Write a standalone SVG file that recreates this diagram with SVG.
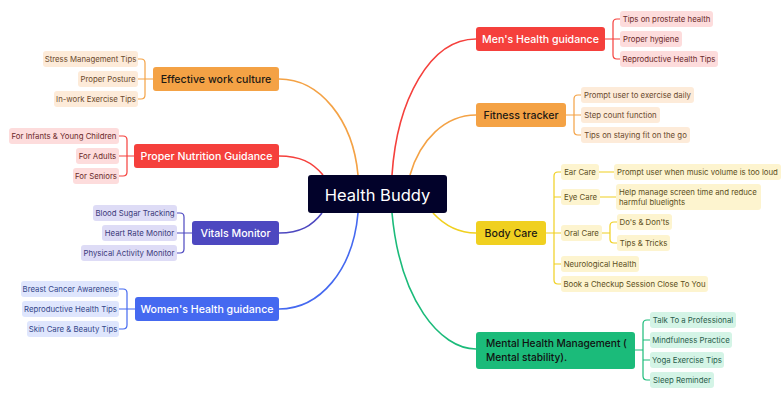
<svg xmlns="http://www.w3.org/2000/svg" width="784" height="403" viewBox="0 0 784 403">
<style>
text{font-family:Inter,"Noto Sans","Liberation Sans",sans-serif}
.c{font-size:7.8px;text-anchor:middle;dominant-baseline:central}
.b{font-size:10.6px;font-weight:500;text-anchor:middle;dominant-baseline:central}
.ln{fill:none;stroke-width:1.6}
.s{fill:none;stroke-width:1.2}
.o{stroke:#f4a245}.r{stroke:#f5403c}.i{stroke:#4d48c0}.bl{stroke:#4569f0}.y{stroke:#f0d020}.g{stroke:#1bbb7a}
.co rect{fill:#fdebd9}.co text{fill:#6b4a2e}
.cr rect{fill:#fddcdc}.cr text{fill:#6b2a2a}
.ci rect{fill:#dedcf6}.ci text{fill:#3b3a7a}
.cb rect{fill:#dfe6fd}.cb text{fill:#34468a}
.cy rect{fill:#fdf4cf}.cy text{fill:#5c4f1c}
.cg rect{fill:#d4f4e6}.cg text{fill:#2b5e4c}
</style>
<rect width="784" height="403" fill="#fff"/>
<g id="connectors">
<path class="ln o" d="M358,175 C353,120 320,79 279,79"/>
<path class="ln r" d="M323,175 C312,162 300,156 279,156"/>
<path class="ln i" d="M322,213 C312,226 300,233 279,233"/>
<path class="ln bl" d="M358,213 C353,270 320,309 279,309"/>
<path class="ln r" d="M392,175 C397,100 430,39 476,39"/>
<path class="ln o" d="M410,175 C420,140 445,115 476,115"/>
<path class="ln y" d="M433,213 C445,226 458,233 476,233"/>
<path class="ln g" d="M392,213 C400,300 440,349 476,349"/>
<path class="s o" d="M153,79 H138 M138,59 H141 Q145,59 145,63 V95 Q145,99 141,99 H138"/>
<path class="s r" d="M134,156 H119 M119,136 H123 Q127,136 127,140 V172 Q127,176 123,176 H119"/>
<path class="s i" d="M192,233 H177 M177,213 H180 Q184,213 184,217 V249 Q184,253 180,253 H177"/>
<path class="s bl" d="M135,309 H119 M119,289 H123 Q127,289 127,293 V325 Q127,329 123,329 H119"/>
<path class="s r" d="M605,39 H620 M620,19 H617 Q613,19 613,23 V55 Q613,59 617,59 H620"/>
<path class="s o" d="M566,115 H581 M581,95 H578 Q574,95 574,99 V131 Q574,135 578,135 H581"/>
<path class="s y" d="M546,233 H561 M561,172 H558 Q554,172 554,176 V280 Q554,284 558,284 H561 M554,197 H561 M554,264 H561 M599,172 H614 M600,197 H616 M602,233 H610 M617,222 H614 Q610,222 610,226 V239 Q610,243 614,243 H617"/>
<path class="s g" d="M635,350 H643 M650,320 H647 Q643,320 643,324 V376 Q643,380 647,380 H650 M643,340 H650 M643,360 H650"/>
</g>
<g id="center"><rect x="308" y="175" width="139" height="38" rx="3" fill="#02022a"/><text x="377.5" y="194.5" font-size="16.5" fill="#fff" text-anchor="middle" dominant-baseline="central">Health Buddy</text></g>
<g id="ewc"><rect x="153" y="67" width="126" height="24" rx="3" fill="#f4a245"/><text class="b" x="216" y="79" fill="#1e1a14">Effective work culture</text></g>
<g id="ewc1" class="co"><rect x="43" y="51" width="95" height="16" rx="3"/><text class="c" x="90.5" y="59">Stress Management Tips</text></g>
<g id="ewc2" class="co"><rect x="78" y="71" width="60" height="16" rx="3"/><text class="c" x="108" y="79">Proper Posture</text></g>
<g id="ewc3" class="co"><rect x="54" y="91" width="84" height="16" rx="3"/><text class="c" x="96" y="99">In-work Exercise Tips</text></g>
<g id="png"><rect x="134" y="144" width="145" height="24" rx="3" fill="#f5403c"/><text class="b" x="206.5" y="156" fill="#fff">Proper Nutrition Guidance</text></g>
<g id="png1" class="cr"><rect x="9" y="128" width="110" height="16" rx="3"/><text class="c" x="64" y="136">For Infants &amp; Young Children</text></g>
<g id="png2" class="cr"><rect x="76" y="148" width="43" height="16" rx="3"/><text class="c" x="97.5" y="156">For Adults</text></g>
<g id="png3" class="cr"><rect x="73" y="168" width="46" height="16" rx="3"/><text class="c" x="96" y="176">For Seniors</text></g>
<g id="vm"><rect x="192" y="221" width="87" height="24" rx="3" fill="#4d48c0"/><text class="b" x="235.5" y="233" fill="#fff">Vitals Monitor</text></g>
<g id="vm1" class="ci"><rect x="93" y="205" width="84" height="16" rx="3"/><text class="c" x="135" y="213">Blood Sugar Tracking</text></g>
<g id="vm2" class="ci"><rect x="102" y="225" width="75" height="16" rx="3"/><text class="c" x="139.5" y="233">Heart Rate Monitor</text></g>
<g id="vm3" class="ci"><rect x="81" y="245" width="96" height="16" rx="3"/><text class="c" x="129" y="253">Physical Activity Monitor</text></g>
<g id="whg"><rect x="135" y="297" width="144" height="24" rx="3" fill="#4569f0"/><text class="b" x="207" y="309" fill="#fff">Women's Health guidance</text></g>
<g id="whg1" class="cb"><rect x="21" y="281" width="98" height="16" rx="3"/><text class="c" x="70" y="289">Breast Cancer Awareness</text></g>
<g id="whg2" class="cb"><rect x="22" y="301" width="97" height="16" rx="3"/><text class="c" x="70.5" y="309">Reproductive Health Tips</text></g>
<g id="whg3" class="cb"><rect x="27" y="321" width="92" height="16" rx="3"/><text class="c" x="73" y="329">Skin Care &amp; Beauty Tips</text></g>
<g id="mhg"><rect x="476" y="27" width="129" height="24" rx="3" fill="#f5403c"/><text class="b" x="540.5" y="39" fill="#fff">Men's Health guidance</text></g>
<g id="mhg1" class="cr"><rect x="620" y="11" width="93" height="16" rx="3"/><text class="c" x="666.5" y="19">Tips on prostrate health</text></g>
<g id="mhg2" class="cr"><rect x="620" y="31" width="62" height="16" rx="3"/><text class="c" x="651" y="39">Proper hygiene</text></g>
<g id="mhg3" class="cr"><rect x="620" y="51" width="98" height="16" rx="3"/><text class="c" x="669" y="59">Reproductive Health Tips</text></g>
<g id="ft"><rect x="476" y="103" width="90" height="24" rx="3" fill="#f4a245"/><text class="b" x="521" y="115" fill="#1e1a14">Fitness tracker</text></g>
<g id="ft1" class="co"><rect x="581" y="87" width="113" height="16" rx="3"/><text class="c" x="637.5" y="95">Prompt user to exercise daily</text></g>
<g id="ft2" class="co"><rect x="581" y="107" width="79" height="16" rx="3"/><text class="c" x="620.5" y="115">Step count function</text></g>
<g id="ft3" class="co"><rect x="581" y="127" width="109" height="16" rx="3"/><text class="c" x="635.5" y="135">Tips on staying fit on the go</text></g>
<g id="bc"><rect x="476" y="221" width="70" height="24" rx="3" fill="#f0d020"/><text class="b" x="511" y="233" fill="#1e1a14">Body Care</text></g>
<g id="bc1" class="cy"><rect x="561" y="164" width="38" height="16" rx="3"/><text class="c" x="580" y="172">Ear Care</text></g>
<g id="bc1a" class="cy"><rect x="614" y="164" width="167" height="16" rx="3"/><text class="c" x="697.5" y="172">Prompt user when music volume is too loud</text></g>
<g id="bc2" class="cy"><rect x="561" y="189" width="39" height="16" rx="3"/><text class="c" x="580.5" y="197">Eye Care</text></g>
<g id="bc2a" class="cy"><rect x="616" y="184" width="145" height="26" rx="3"/><text class="c" x="619" y="192" style="text-anchor:start">Help manage screen time and reduce</text><text class="c" x="619" y="202" style="text-anchor:start">harmful bluelights</text></g>
<g id="bc3" class="cy"><rect x="561" y="225" width="41" height="16" rx="3"/><text class="c" x="581.5" y="233">Oral Care</text></g>
<g id="bc3a" class="cy"><rect x="617" y="214" width="55" height="16" rx="3"/><text class="c" x="644.5" y="222">Do's &amp; Don'ts</text></g>
<g id="bc3b" class="cy"><rect x="617" y="235" width="53" height="16" rx="3"/><text class="c" x="643.5" y="243">Tips &amp; Tricks</text></g>
<g id="bc4" class="cy"><rect x="561" y="256" width="78" height="16" rx="3"/><text class="c" x="600" y="264">Neurological Health</text></g>
<g id="bc5" class="cy"><rect x="561" y="276" width="147" height="16" rx="3"/><text class="c" x="634.5" y="284">Book a Checkup Session Close To You</text></g>
<g id="mh"><rect x="476" y="332" width="159" height="37" rx="3" fill="#1bbb7a"/><text x="486" y="343" font-size="10.2" font-weight="500" fill="#111" dominant-baseline="central">Mental Health Management (</text><text x="486" y="357" font-size="10.2" font-weight="500" fill="#111" dominant-baseline="central">Mental stability).</text></g>
<g id="mh1" class="cg"><rect x="650" y="312" width="86" height="16" rx="3"/><text class="c" x="693" y="320">Talk To a Professional</text></g>
<g id="mh2" class="cg"><rect x="650" y="332" width="82" height="16" rx="3"/><text class="c" x="691" y="340">Mindfulness Practice</text></g>
<g id="mh3" class="cg"><rect x="650" y="352" width="74" height="16" rx="3"/><text class="c" x="687" y="360">Yoga Exercise Tips</text></g>
<g id="mh4" class="cg"><rect x="650" y="372" width="64" height="16" rx="3"/><text class="c" x="682" y="380">Sleep Reminder</text></g>
</svg>
